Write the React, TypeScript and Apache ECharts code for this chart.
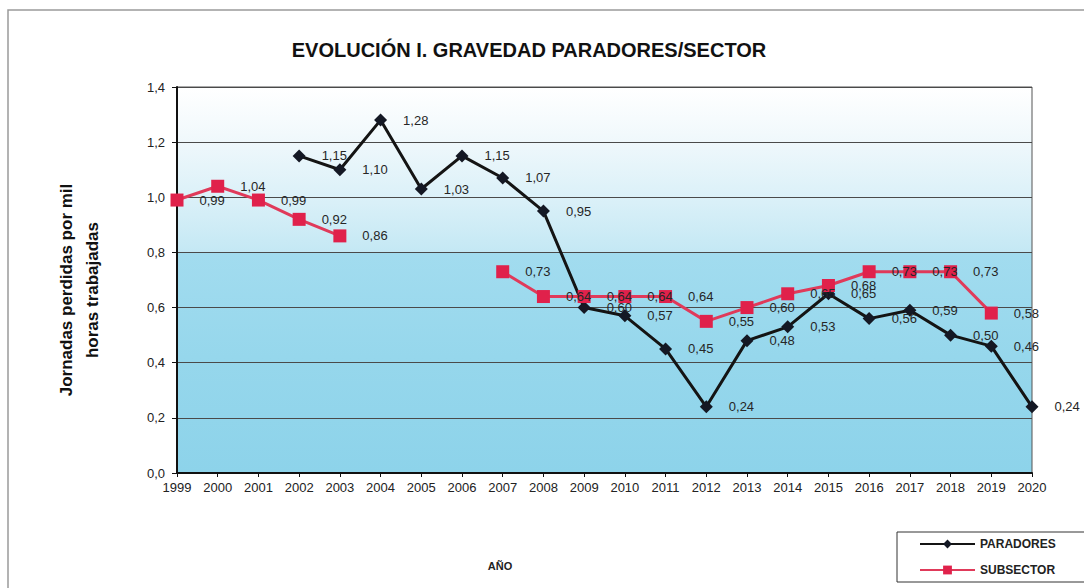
import React, { useEffect, useRef } from "react";
import * as echarts from "echarts";

const years = ["1999","2000","2001","2002","2003","2004","2005","2006","2007","2008","2009","2010","2011","2012","2013","2014","2015","2016","2017","2018","2019","2020"];
const paradores: (number | null)[] = [null, null, null, 1.15, 1.10, 1.28, 1.03, 1.15, 1.07, 0.95, 0.60, 0.57, 0.45, 0.24, 0.48, 0.53, 0.65, 0.56, 0.59, 0.50, 0.46, 0.24];
const subsector: (number | null)[] = [0.99, 1.04, 0.99, 0.92, 0.86, null, null, null, 0.73, 0.64, 0.64, 0.64, 0.64, 0.55, 0.60, 0.65, 0.68, 0.73, 0.73, 0.73, 0.58, null];
const yTicks = [0, 0.2, 0.4, 0.6, 0.8, 1.0, 1.2, 1.4];

const fmt = (v: number) => v.toFixed(2).replace(".", ",");

export default function App() {
  const ref = useRef<HTMLDivElement>(null);
  useEffect(() => {
    if (!ref.current) return;
    const chart = echarts.init(ref.current, null, { renderer: "svg" });
    const font = "'Liberation Sans', Arial, sans-serif";
    const labelStyle = {
      show: true,
      position: "right" as const,
      distance: 16,
      fontSize: 13,
      fontFamily: font,
      color: "#262626",
      formatter: (p: any) => fmt(p.value),
    };
    chart.setOption({
      animation: false,
      backgroundColor: "#ffffff",
      title: {
        text: "EVOLUCIÓN I. GRAVEDAD PARADORES/SECTOR",
        left: 524,
        textAlign: "center",
        top: 35,
        textStyle: { fontSize: 20, fontWeight: "bold", fontFamily: font, color: "#111" },
      },
      grid: {
        left: 177,
        right: 52,
        top: 87,
        bottom: 115,
        show: true,
        borderColor: "#555",
        borderWidth: 1,
        backgroundColor: new echarts.graphic.LinearGradient(0, 0, 0, 1, [
          { offset: 0, color: "#ffffff" },
          { offset: 0.12, color: "#f2f9fc" },
          { offset: 0.3, color: "#d9f0f8" },
          { offset: 0.428, color: "#c4e8f4" },
          { offset: 0.43, color: "#a2dcef" },
          { offset: 0.7, color: "#96d7ec" },
          { offset: 1, color: "#8dd3ea" },
        ]),
      },
      legend: {
        left: 897,
        top: 532,
        orient: "vertical",
        padding: [6, 40, 6, 22],
        itemWidth: 55,
        itemHeight: 11,
        itemGap: 14,
        borderColor: "#333",
        borderWidth: 1,
        backgroundColor: "#fff",
        textStyle: { fontSize: 12, fontWeight: "bold", fontFamily: font, color: "#222" },
        data: ["PARADORES", "SUBSECTOR"],
      },
      xAxis: {
        type: "category",
        data: years,
        boundaryGap: false,
        axisLine: { lineStyle: { color: "#111", width: 2 } },
        axisTick: { show: true, alignWithLabel: true, length: 4, lineStyle: { color: "#111" } },
        axisLabel: { fontSize: 13, fontFamily: font, color: "#222", margin: 8, interval: 0 },
        splitLine: { show: false },
      },
      yAxis: {
        type: "value",
        min: 0,
        max: 1.4,
        interval: 0.2,
        axisLine: { show: true, lineStyle: { color: "#111", width: 2 } },
        axisTick: { show: true, length: 5, lineStyle: { color: "#111" } },
        axisLabel: {
          fontSize: 13,
          fontFamily: font,
          color: "#222",
          margin: 12,
          formatter: (v: number) => {
            const t = yTicks.find((x) => Math.abs(x - v) < 1e-6);
            return (t ?? v).toFixed(1).replace(".", ",");
          },
        },
        splitLine: { show: true, lineStyle: { color: "#4a4a4a", width: 1 } },
      },
      graphic: [
        {
          type: "rect",
          shape: { x: 8, y: 10, width: 1090, height: 600 },
          style: { fill: "none", stroke: "#9a9a9a", lineWidth: 1.5 },
          silent: true,
        },
        {
          type: "text",
          x: 79,
          y: 290,
          rotation: Math.PI / 2,
          style: {
            text: "Jornadas perdidas por mil\nhoras trabajadas",
            fontSize: 17,
            fontWeight: "bold",
            fontFamily: font,
            fill: "#111",
            align: "center",
            verticalAlign: "middle",
            lineHeight: 26,
          },
        },
        {
          type: "text",
          x: 500,
          y: 566,
          style: {
            text: "AÑO",
            fontSize: 11,
            fontWeight: "bold",
            fontFamily: font,
            fill: "#222",
            align: "center",
            verticalAlign: "middle",
          },
        },
      ],
      series: [
        {
          name: "PARADORES",
          type: "line",
          data: paradores,
          connectNulls: false,
          symbol: "diamond",
          symbolSize: 13,
          itemStyle: { color: "#141824" },
          lineStyle: { color: "#141414", width: 3 },
          label: labelStyle,
          z: 2,
        },
        {
          name: "SUBSECTOR",
          type: "line",
          data: subsector,
          connectNulls: false,
          symbol: "rect",
          symbolSize: 13,
          itemStyle: { color: "#e0214b" },
          lineStyle: { color: "#e03a5a", width: 3 },
          label: labelStyle,
          z: 3,
        },
      ],
    });
    return () => chart.dispose();
  }, []);
  return (
    <div
      ref={ref}
      style={{ position: "fixed", left: 0, top: 0, width: 1084, height: 588 }}
    />
  );
}
